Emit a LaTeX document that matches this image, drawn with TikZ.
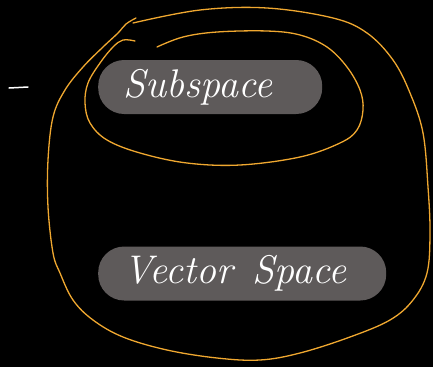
\documentclass[tikz,border=0pt]{standalone}
\usepackage{fontspec}
\definecolor{pillgray}{HTML}{5E5A5A}
\definecolor{loop}{HTML}{F0A830}
\begin{document}
\begin{tikzpicture}[x=1pt,y=-1pt,
  pill/.style={fill=pillgray,rounded corners=26pt,minimum height=54pt,
    inner xsep=25pt,align=left,text=white,
    font=\fontsize{40}{46}\selectfont\itshape},
  ink/.style={draw=loop,line width=1.3pt,line cap=round,line join=round}]
\fill[black] (0,0) rectangle (433,367);
\useasboundingbox (0,0) rectangle (433,367);
% the two sets
\node[pill,text width=174pt,anchor=west] (subspace) at (98,87) {Subspace};
\node[pill,text width=238pt,anchor=west] (vspace) at (98,273.5) {Vector\hspace{20pt}Space};
% outer loop round both
\draw[ink] plot[smooth,tension=0.6] coordinates {(133,23) (200,10) (267,8)
  (333,18) (367,33) (393,60) (410,93) (423,133) (428,187) (430,233)
  (427,273) (413,300) (390,320) (350,337) (300,353) (260,360) (217,358)
  (167,350) (123,337) (93,320) (73,300) (60,273) (53,253) (48,207)
  (48,160) (53,117) (65,90) (83,67) (103,47) (118,33) (126,24) (136,18)};
% inner loop round the subspace
\draw[ink] plot[smooth,tension=0.6] coordinates {(157,47) (183,37) (217,32)
  (267,31) (300,35) (327,47) (347,67) (360,90) (363,110) (357,130)
  (340,143) (300,157) (240,165) (187,163) (140,153) (107,140) (90,123)
  (85,103) (88,83) (100,63) (113,47) (123,40) (135,41)};
% dash on the left
\draw[white,line width=1.5pt,line cap=round] (9,88) -- (28,87);
\end{tikzpicture}
\end{document}
